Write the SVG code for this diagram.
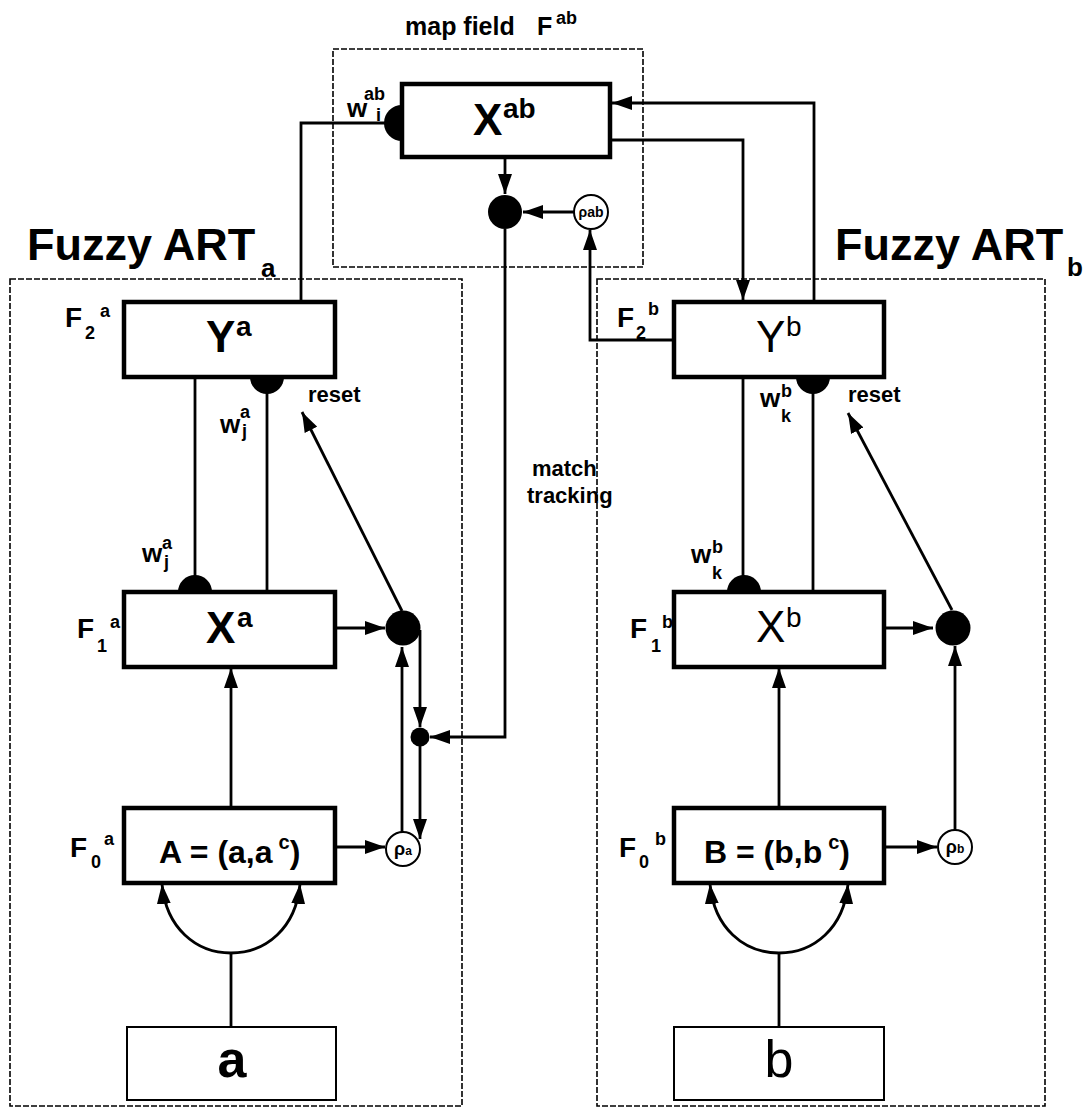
<svg xmlns="http://www.w3.org/2000/svg" width="1089" height="1111" viewBox="0 0 1089 1111">
<defs>
<style>
.t{font-family:"Liberation Sans",Arial,Helvetica,sans-serif;font-weight:bold;fill:#000}
.r{font-weight:normal}
.box{fill:#fff;stroke:#000;stroke-width:4.5}
.inbox{fill:#fff;stroke:#000;stroke-width:2}
.dash{fill:none;stroke:#000;stroke-width:1.6;stroke-dasharray:6 2}
.ln{fill:none;stroke:#000;stroke-width:2.8}
.arr{marker-end:url(#ah)}
.dot{fill:#000}
.rho{fill:#fff;stroke:#000;stroke-width:2}
</style>
<marker id="ah" markerWidth="20" markerHeight="14" refX="20" refY="7" orient="auto" markerUnits="userSpaceOnUse"><path d="M0,0 L20,7 L0,14 Z" fill="#000"/></marker>
</defs>
<rect width="1089" height="1111" fill="#fff"/>

<g id="mapfield">
<rect class="dash" x="333" y="49" width="310" height="218"/>
<text class="t" x="405" y="35" font-size="25">map field</text>
<text class="t" x="537" y="35" font-size="25">F</text>
<text class="t" x="556" y="24" font-size="18">ab</text>
</g>
<g id="fuzzyARTa">
<rect class="dash" x="10" y="279" width="452" height="827"/>
<text class="t" x="27" y="260" font-size="45">Fuzzy ART</text>
<text class="t" x="261" y="277" font-size="26">a</text>
</g>
<g id="fuzzyARTb">
<rect class="dash" x="597" y="279" width="448" height="827"/>
<text class="t" x="835" y="260" font-size="45">Fuzzy ART</text>
<text class="t" x="1067" y="276" font-size="26">b</text>
</g>

<g id="connectors">
<path class="ln arr" d="M505,157 V194"/>
<path class="ln arr" d="M574,212 H523"/>
<path class="ln arr" d="M505,229 V737 H430"/>
<path class="ln" d="M301,302 V123 H386"/>
<path class="ln arr" d="M610,140 H743 V300"/>
<path class="ln arr" d="M814,302 V103 H612"/>
<path class="ln arr" d="M674,340 H590 V230"/>
<path class="ln" d="M195,377 V576"/>
<path class="ln" d="M267,377 V592"/>
<path class="ln" d="M743,377 V576"/>
<path class="ln" d="M813,377 V592"/>
<path class="ln arr" d="M335,628 H385"/>
<path class="ln arr" d="M402,611 L302,412"/>
<path class="ln arr" d="M420,630 V727"/>
<path class="ln arr" d="M420,746 V839"/>
<path class="ln arr" d="M402,832 V647"/>
<path class="ln arr" d="M336,847 H385"/>
<path class="ln arr" d="M231,808 V668"/>
<path class="ln" d="M231,1027 V953"/>
<path class="ln arr" d="M231,953 C196,953 166,928 162,884"/>
<path class="ln arr" d="M231,953 C266,953 296,928 300,884"/>
<path class="ln arr" d="M884,628 H933"/>
<path class="ln arr" d="M952,610 L848,413"/>
<path class="ln arr" d="M955,830 V646"/>
<path class="ln arr" d="M884,847 H937"/>
<path class="ln arr" d="M779,808 V668"/>
<path class="ln" d="M779,1027 V953"/>
<path class="ln arr" d="M779,953 C744,953 714,928 710,884"/>
<path class="ln arr" d="M779,953 C814,953 844,928 848,884"/>
</g>

<g id="Xab">
<rect class="box" x="402" y="84" width="208" height="73"/>
<path class="dot" d="M402,105 A18,18 0 0 0 402,141 Z"/>
<text class="t" x="473" y="135" font-size="44">X</text>
<text class="t" x="503" y="118" font-size="28">ab</text>
<text class="t" x="347" y="117" font-size="26">w</text>
<text class="t" x="364" y="100" font-size="18">ab</text>
<text class="t" x="376" y="121" font-size="18">i</text>
</g>
<g id="mapdot"><circle class="dot" cx="505" cy="212" r="17"/></g>
<g id="rhoab">
<circle class="rho" cx="591" cy="212" r="17"/>
<text class="t" x="591" y="217" font-size="14" text-anchor="middle">ρab</text>
</g>

<g id="Ya">
<rect class="box" x="124" y="302" width="211" height="75"/>
<path class="dot" d="M250,377 A17,17 0 0 0 284,377 Z"/>
<text class="t" x="206" y="352" font-size="44">Y</text>
<text class="t" x="236" y="336" font-size="28">a</text>
<text class="t" x="65" y="327" font-size="28">F</text>
<text class="t" x="85" y="339" font-size="18">2</text>
<text class="t" x="100" y="317" font-size="18">a</text>
<text class="t" x="220" y="433" font-size="26">w</text>
<text class="t" x="240" y="418" font-size="18">a</text>
<text class="t" x="242" y="437" font-size="18">j</text>
<text class="t" x="308" y="402" font-size="22">reset</text>
</g>
<g id="Xa">
<rect class="box" x="124" y="592" width="211" height="75"/>
<path class="dot" d="M178,592 A17,17 0 0 1 212,592 Z"/>
<text class="t" x="206" y="643" font-size="44">X</text>
<text class="t" x="237" y="627" font-size="28">a</text>
<text class="t" x="77" y="638" font-size="28">F</text>
<text class="t" x="97" y="652" font-size="18">1</text>
<text class="t" x="110" y="628" font-size="18">a</text>
<text class="t" x="142" y="562" font-size="26">w</text>
<text class="t" x="162" y="549" font-size="18">a</text>
<text class="t" x="164" y="568" font-size="18">j</text>
</g>
<g id="resetA"><circle class="dot" cx="403" cy="628" r="17.5"/></g>
<g id="matchA"><circle class="dot" cx="420" cy="737" r="9.5"/></g>
<g id="rhoA">
<circle class="rho" cx="403" cy="849" r="17"/>
<text class="t" x="403" y="855" font-size="18" text-anchor="middle">ρ<tspan font-size="12">a</tspan></text>
</g>
<g id="A">
<rect class="box" x="124" y="808" width="211" height="75"/>
<text class="t" x="159" y="863" font-size="32">A = (a,a<tspan font-size="20" dx="6" dy="-14">c</tspan><tspan dy="14">)</tspan></text>
<text class="t" x="70" y="857" font-size="28">F</text>
<text class="t" x="91" y="868" font-size="18">0</text>
<text class="t" x="104" y="845" font-size="18">a</text>
</g>
<g id="inputA">
<rect class="inbox" x="127" y="1027" width="209" height="73"/>
<text class="t" x="232" y="1077" font-size="52" text-anchor="middle">a</text>
</g>

<g id="Yb">
<rect class="box" x="674" y="302" width="210" height="75"/>
<path class="dot" d="M796,377 A17,17 0 0 0 830,377 Z"/>
<text class="t r" x="756" y="352" font-size="44">Y</text>
<text class="t r" x="786" y="336" font-size="28">b</text>
<text class="t" x="617" y="327" font-size="28">F</text>
<text class="t" x="636" y="339" font-size="18">2</text>
<text class="t" x="648" y="315" font-size="18">b</text>
<text class="t" x="760" y="407" font-size="26">w</text>
<text class="t" x="781" y="397" font-size="18">b</text>
<text class="t" x="781" y="422" font-size="18">k</text>
<text class="t" x="848" y="402" font-size="22">reset</text>
</g>
<g id="Xb">
<rect class="box" x="674" y="592" width="210" height="75"/>
<path class="dot" d="M727,592 A17,17 0 0 1 761,592 Z"/>
<text class="t r" x="756" y="642" font-size="44">X</text>
<text class="t r" x="786" y="627" font-size="28">b</text>
<text class="t" x="630" y="638" font-size="28">F</text>
<text class="t" x="651" y="652" font-size="18">1</text>
<text class="t" x="662" y="628" font-size="18">b</text>
<text class="t" x="691" y="563" font-size="26">w</text>
<text class="t" x="712" y="553" font-size="18">b</text>
<text class="t" x="712" y="579" font-size="18">k</text>
</g>
<g id="resetB"><circle class="dot" cx="953" cy="628" r="17.5"/></g>
<g id="rhoB">
<circle class="rho" cx="955" cy="847" r="17"/>
<text class="t" x="955" y="853" font-size="18" text-anchor="middle">ρ<tspan font-size="12">b</tspan></text>
</g>
<g id="B">
<rect class="box" x="674" y="808" width="210" height="75"/>
<text class="t" x="704" y="863" font-size="32">B = (b,b<tspan font-size="20" dx="6" dy="-14">c</tspan><tspan dy="14">)</tspan></text>
<text class="t" x="619" y="857" font-size="28">F</text>
<text class="t" x="639" y="868" font-size="18">0</text>
<text class="t" x="655" y="845" font-size="18">b</text>
</g>
<g id="inputB">
<rect class="inbox" x="674" y="1027" width="210" height="73"/>
<text class="t r" x="779" y="1077" font-size="52" text-anchor="middle">b</text>
</g>

<g id="labels">
<text class="t" x="532" y="476" font-size="22">match</text>
<text class="t" x="527" y="503" font-size="22">tracking</text>
</g>
</svg>
